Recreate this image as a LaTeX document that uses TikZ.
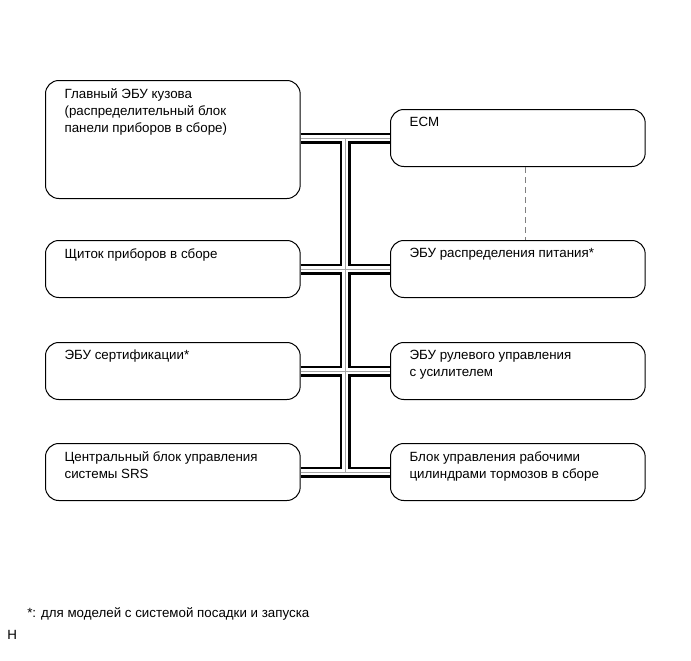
\documentclass[tikz,border=0pt]{standalone}
\usepackage{fontspec}
\setmainfont{Liberation Sans}
\usepackage{tikz}
\usetikzlibrary{positioning,calc}

\tikzset{
  ecubox/.style={draw,line width=0.75pt,rounded corners=10pt,anchor=north west,
    minimum width=191pt,minimum height=42.75pt,inner sep=0pt},
  ecutxt/.style={anchor=north west,align=left,inner sep=0pt,xshift=14.5pt,yshift=-6pt,
    font=\fontsize{10}{12.75}\selectfont},
  busouter/.style={line width=8.25pt,black},
  businner/.style={line width=4.5pt,white},
  buscore/.style={line width=0.6pt,gray!70},
}
\newcommand{\busroute}{
  (b1.east |- ecm.west) -- (ecm.west)
  (b2.east) -- (pwr.west)
  (b3.east) -- (eps.west)
  (b4.east) -- (brk.west)
  (bustop) -- (busbot)
}

\begin{document}
\begin{tikzpicture}[x=0.75pt,y=-0.75pt,font=\fontsize{10}{12.75}\selectfont]
  \useasboundingbox (0,0) rectangle (691,660);
  % left column
  \node[ecubox,minimum height=88.5pt,label={[ecutxt]north west:{Главный ЭБУ кузова\\(распределительный блок\\панели приборов в сборе)}}] (b1) at (45,80) {};
  \node[ecubox,label={[ecutxt]north west:{Щиток приборов в сборе}}] (b2) at (45,240) {};
  \node[ecubox,label={[ecutxt]north west:{ЭБУ сертификации*}}] (b3) at (45,342) {};
  \node[ecubox,label={[ecutxt]north west:{Центральный блок управления\\системы SRS}}] (b4) at (45,443) {};
  % right column
  \node[ecubox,label={[ecutxt]north west:{ECM}}] (ecm) at (390,109) {};
  \node[ecubox,label={[ecutxt]north west:{ЭБУ распределения питания*}}] (pwr) at (390,240) {};
  \node[ecubox,label={[ecutxt]north west:{ЭБУ рулевого управления\\с усилителем}}] (eps) at (390,342) {};
  \node[ecubox,label={[ecutxt]north west:{Блок управления рабочими\\цилиндрами тормозов в сборе}}] (brk) at (390,443) {};
  % bus
  \coordinate (bustop) at ($(b1.east |- ecm.west)!0.5!(ecm.west)$);
  \coordinate (busbot) at (bustop |- brk.west);
  \draw[busouter] \busroute;
  \draw[businner] \busroute;
  \draw[buscore] \busroute;
  \draw[gray,line width=0.75pt,dash pattern=on 4.5pt off 3pt] ([xshift=5.5pt]ecm.south) -- ([xshift=5.5pt]pwr.north);
  % notes
  \node[anchor=base west,inner sep=0pt] (note) at (27,617) {*: для моделей с системой посадки и запуска};
  \node[anchor=base west,inner sep=0pt] (code) at (7,639) {H};
\end{tikzpicture}
\end{document}
